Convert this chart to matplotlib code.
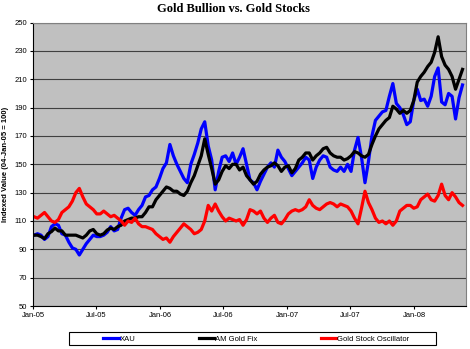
import matplotlib
matplotlib.use('agg')
from matplotlib import pyplot as plt
from matplotlib.patches import Rectangle
import matplotlib.dates as mdates
import pandas as pd

# every 10 days starting 04-Jan-05
dates = pd.date_range('2005-01-04', periods=124, freq='10D')

xau = [100, 101, 100, 97, 99, 106, 108, 107, 101, 100,
       95, 91, 90, 86, 90, 94, 97, 100, 99, 99,
       100, 102, 106, 103, 104, 112, 118, 119, 116, 114,
       118, 121, 127, 128, 132, 134, 140, 147, 151, 164,
       156, 150, 145, 140, 137, 150, 157, 165, 175, 180,
       163, 153, 132, 145, 155, 156, 152, 158, 150, 155,
       161, 150, 139, 137, 132, 138, 143, 148, 151, 148,
       160, 155, 152, 147, 142, 145, 148, 151, 155, 153,
       140, 148, 153, 156, 155, 148, 146, 145, 148, 145,
       150, 145, 160, 169, 155, 137, 152, 170, 181, 184,
       187, 188, 198, 207, 193, 190, 185, 178, 180, 195,
       203, 195, 196, 191, 198, 212, 218, 194, 192, 200,
       198, 182, 197, 206]

gold_fix = [100, 100, 99, 97.5, 101, 102.5, 105, 103, 103, 100,
            100, 100, 100, 99, 98, 100, 103, 104, 101, 100,
            101, 103.6, 105, 104, 106, 107, 110, 111, 112, 112,
            113, 113, 116, 120, 120, 125, 128, 131, 134, 133,
            131, 131, 129, 128, 131, 137, 142, 149, 156, 168,
            157, 147, 136, 139, 145, 149, 147, 150, 150, 146,
            148, 142, 139, 136, 138, 143, 146, 148, 149, 151,
            149, 145, 148, 149, 144, 147, 153, 155, 158, 158,
            153, 156, 158, 161, 162, 158, 156, 155, 155, 153,
            154, 156, 159, 158, 156, 155, 157, 164, 170, 175,
            178, 181, 183, 191, 189, 186, 188, 186, 188, 195,
            208, 212, 215, 219, 222, 229, 240, 226, 220, 217,
            212, 203, 210, 217]

oscillator = [113, 112, 114, 116, 113, 110, 109, 111, 116, 118,
              120, 124, 130, 133, 127, 122, 120, 118, 115, 115,
              117, 115, 113, 114, 112, 110, 107, 110, 109, 112,
              108, 106, 106, 105, 104, 101, 99, 97, 98, 95,
              99, 102, 105, 108, 106, 104, 101, 102, 104, 110,
              121, 117, 122, 117, 113, 110, 112, 111, 110, 111,
              107, 111, 118, 117, 115, 117, 112, 109, 112, 114,
              109, 108, 111, 115, 117, 118, 117, 118, 120, 125,
              121, 119, 118, 120, 122, 123, 122, 120, 122, 121,
              120, 117, 112, 108, 119, 131, 123, 118, 112, 109,
              110, 108, 110, 107, 110, 117, 119, 121, 121, 119,
              120, 125, 127, 129, 125, 124, 128, 136, 128, 125,
              130, 127, 123, 121]

yticks = list(range(50, 251, 20))

plt.rcParams['font.family'] = 'Liberation Sans'

fig = plt.figure(figsize=(4.7, 3.49), dpi=100)
ax = fig.add_axes([0.0702, 0.1232, 0.9213, 0.812])
ax.set_facecolor('#C0C0C0')

ax.plot(dates, xau, color='#0000FF', lw=2.3, label='XAU')
ax.plot(dates, gold_fix, color='black', lw=2.3, label='AM Gold Fix')
ax.plot(dates, oscillator, color='#FF0000', lw=2.3, label='Gold Stock Oscillator')

ax.set_ylim(50, 250)
ax.set_yticks(yticks)
ax.set_xlim(pd.Timestamp('2005-01-01'), pd.Timestamp('2008-05-28'))
ax.xaxis.set_major_locator(mdates.MonthLocator(bymonth=[1, 7]))
ax.xaxis.set_major_formatter(mdates.DateFormatter('%b-%y'))
ax.tick_params(labelsize=5.5, length=2.5, width=0.8, pad=2)
ax.yaxis.grid(True, color='#404040', lw=0.8)
ax.set_axisbelow(True)
for side in ['top', 'right']:
    ax.spines[side].set_color('#808080')
for side in ['left', 'bottom']:
    ax.spines[side].set_color('black')

ax.set_ylabel('Indexed Value (04-Jan-05 = 100)', fontsize=5.5, fontweight='bold', labelpad=4)
fig.suptitle('Gold Bullion vs. Gold Stocks', x=0.496, y=0.99, fontsize=9, fontweight='bold',
             family='Liberation Serif')

# legend box drawn like Excel's, entries spread inside it
fig.patches.append(Rectangle((69 / 470, 1 - 345 / 349), 367 / 470, 13.5 / 349,
                             transform=fig.transFigure, facecolor='white',
                             edgecolor='black', lw=0.8))
fig.legend(loc='lower left', bbox_to_anchor=(101 / 470, 1 - 345 / 349, 310 / 470, 13.5 / 349),
           mode='expand', ncol=3, fontsize=5.5, frameon=False,
           handlelength=2.0, handletextpad=0.1, borderaxespad=0, borderpad=0.3)

plt.savefig('out.png', dpi=100)
plt.close()
